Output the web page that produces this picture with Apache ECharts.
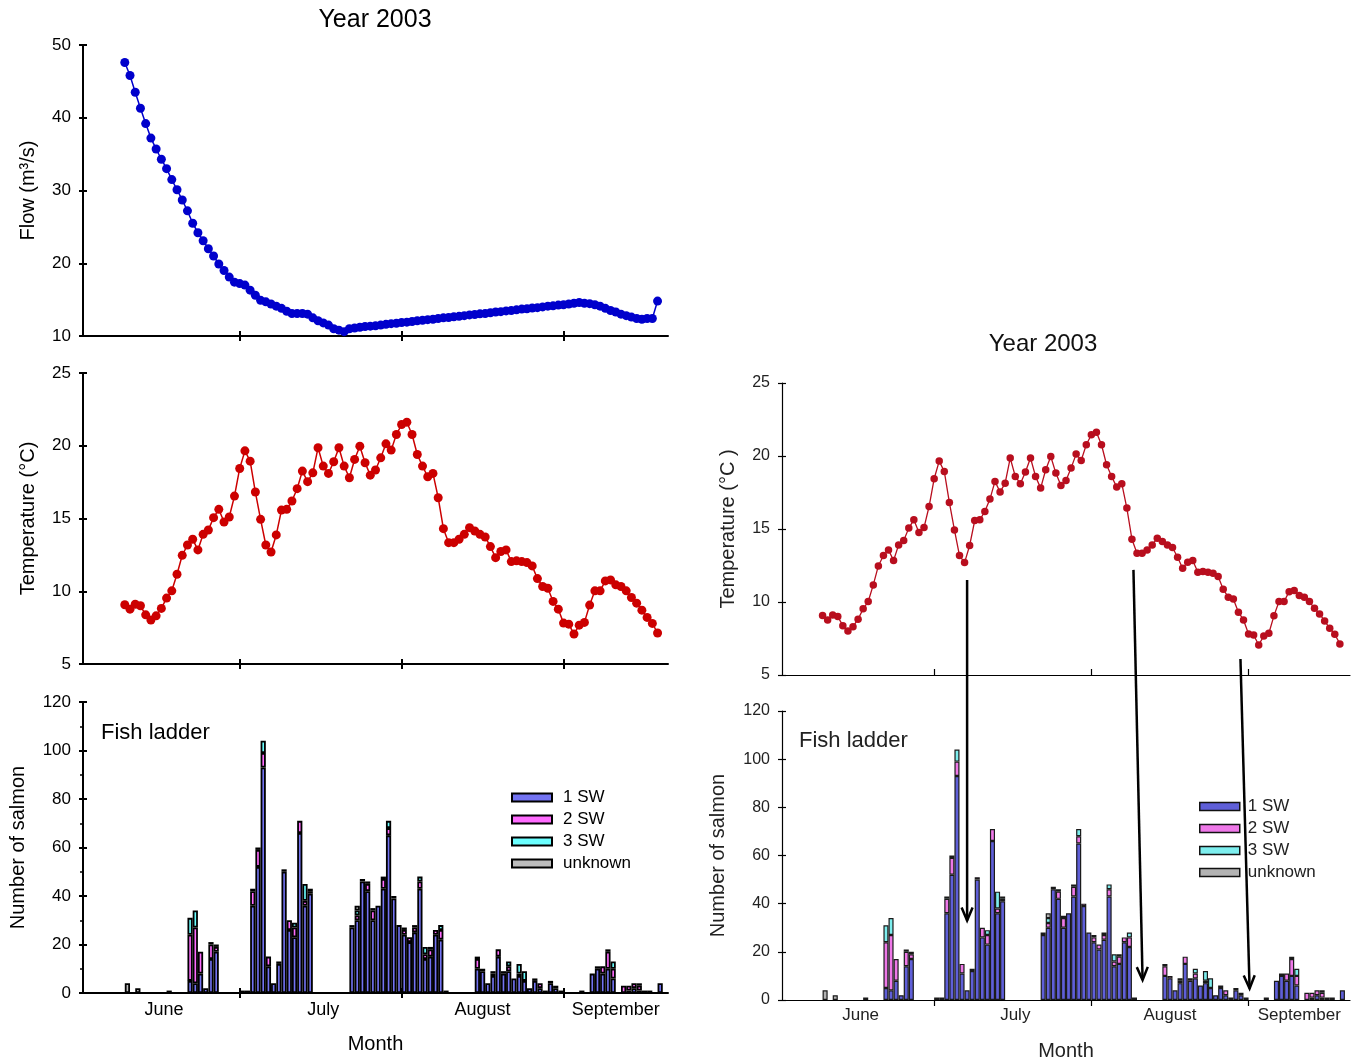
<!DOCTYPE html>
<html><head><meta charset="utf-8">
<script src="https://cdn.jsdelivr.net/npm/echarts@6/dist/echarts.min.js"></script>
<style>html,body{margin:0;padding:0;background:#fff}#c{width:1362px;height:1063px}</style>
</head><body><div id="c"></div>
<script>
// ---------------- DATA ----------------
// day index: 0 = 1 June 2003
const FIRST_DAY = 8;          // first daily flow / temperature reading (9 June)
const NDAYS = 112;            // axis spans 1 June .. 21 September
const flowValues = [
 47.6,45.8,43.5,41.3,39.2,37.2,35.7,34.3,33.0,31.5,
 30.1,28.7,27.2,25.5,24.2,23.1,22.0,21.0,19.9,19.0,
 18.1,17.4,17.2,17.0,16.3,15.6,14.9,14.7,14.4,14.1,
 13.8,13.4,13.1,13.1,13.1,13.0,12.5,12.1,11.8,11.5,
 11.0,10.8,10.6,11.0,11.1,11.2,11.3,11.35,11.4,11.5,
 11.6,11.7,11.75,11.85,11.9,12.0,12.1,12.15,12.25,12.3,
 12.4,12.5,12.55,12.65,12.7,12.8,12.9,12.95,13.05,13.1,
 13.2,13.3,13.35,13.45,13.5,13.6,13.7,13.75,13.85,13.9,
 14.0,14.1,14.15,14.25,14.3,14.4,14.5,14.6,14.5,14.45,
 14.3,14.1,13.8,13.5,13.3,13.0,12.8,12.6,12.4,12.3,
 12.4,12.4,14.8];
const tempValues = [
 9.07,8.77,9.11,9.0,8.38,8.02,8.31,8.82,9.53,10.03,
 11.17,12.47,13.18,13.57,12.84,13.91,14.21,15.06,15.63,14.76,
 15.1,16.54,18.44,19.65,18.94,16.82,14.94,13.18,12.7,13.87,
 15.58,15.63,16.2,17.05,18.26,17.53,18.14,19.86,18.6,18.1,
 18.9,19.86,18.6,17.8,19.06,19.97,18.83,17.98,18.33,19.17,
 20.13,19.7,20.77,21.46,21.62,20.77,19.4,18.6,17.87,18.1,
 16.43,14.3,13.34,13.34,13.57,13.91,14.37,14.14,13.91,13.73,
 13.07,12.31,12.73,12.84,12.04,12.09,12.04,11.97,11.74,10.87,
 10.33,10.21,9.3,8.77,7.81,7.74,7.06,7.67,7.86,9.05,
 10.03,10.03,10.71,10.78,10.44,10.33,10.03,9.57,9.18,8.7,
 8.2,7.79,7.13];
const barDays = [8,10,16, 20,21,22,23,24,25, 30,31,
 32,33,34,35,36,37,38,39,40,41,42,43,
 51,52,53,54,55,56,57,58,59,60,61,62,63,64,65,66,67,68,69,
 75,76,77,78,79,80,81,82,83,84,85,86,87,88,89,90,91,
 95, 97,98,99,100,101, 103,104,105,106,107,108, 110];
const sw1 = [0,0,1, 5,4,8,2,14,17, 1,1,
 36,52,93,11,4,12,50,26,23,66,36,41,
 27,30,46,42,30,36,43,65,39,28,24,21,25,43,14,15,24,22,1,
 10,9,4,7,15,8,9,6,7,5,2,5,2,1,4,2,1,
 1, 8,10,8,10,6, 0,1,2,1,1,1, 4];
const sw2 = [0,0,0, 19,23,9,0,6,2, 0,0,
 6,7,6,4,0,0,1,4,4,5,2,1,
 1,2,0,3,4,0,4,3,1,0,2,2,2,3,2,3,2,4,0,
 4,1,0,1,3,1,2,0,1,0,0,0,2,0,0,1,0,
 0, 0,1,3,7,4, 3,2,2,2,0,0, 0];
const sw3 = [0,0,0, 7,7,0,0,1,1, 0,0,
 1,1,5,0,0,1,0,0,2,0,7,1,
 0,2,1,1,1,0,1,3,0,0,1,0,1,2,3,1,0,2,0,
 1,0,0,1,0,0,2,0,4,4,0,1,0,0,1,0,0,
 0, 0,0,0,1,3, 0,0,0,1,0,0, 0];
const unknownSW = [4,2,0, 0,0,0,0,0,0, 0,0,
 0,0,0,0,0,0,0,0,0,0,0,0,
 0,2,0,0,0,0,0,0,0,0,0,0,0,0,0,0,0,0,0,
 0,0,0,0,0,0,0,0,0,0,0,0,0,0,0,0,0,
 0, 0,0,0,0,0, 0,0,0,0,0,0, 0];
const seriesNames = ['1 SW','2 SW','3 SW','unknown'];
const monthNames = ['June','July','August','September'];
const monthStarts = [30, 61, 92];
const monthLabelPos = [15.5, 46, 76.5, 102];
// arrows (annotation, right panel): from temperature point to salmon-count point
const arrows = [
 {from:[36.5, 11.5], to:[36.5, 33]},
 {from:[69.3, 12.2], to:[71.1, 8.3]},
 {from:[90.4, 6.1], to:[92.2, 4.8]}
];

// ---------------- BUILD ----------------
const FONT = '"Liberation Sans", Arial, sans-serif';
const lineDays = flowValues.map((_, i) => FIRST_DAY + i);
const flowData = lineDays.map((d, i) => [d, flowValues[i]]);
const tempData = lineDays.map((d, i) => [d, tempValues[i]]);
const dayCats = Array.from({length: NDAYS}, (_, i) => String(i));
function fullSeries(arr) {
  const out = new Array(NDAYS).fill('-');
  barDays.forEach((d, i) => { if (arr[i] > 0) out[d] = arr[i]; });
  return out;
}
const stackData = [sw1, sw2, sw3, unknownSW].map(fullSeries);
function nearestIdx(v) {
  let b = 0; monthLabelPos.forEach((p, i) => { if (Math.abs(p - v) < Math.abs(monthLabelPos[b] - v)) b = i; });
  return b;
}

const grids = [
  {left:83, top:45, width:585, height:291},
  {left:83, top:373, width:585, height:291},
  {left:83, top:702, width:585, height:291},
  {left:782, top:383, width:568, height:292},
  {left:782, top:711, width:568, height:289}
];

const xAxes = [], yAxes = [];
const addX = o => (xAxes.push(o), xAxes.length - 1);
const addY = o => (yAxes.push(o), yAxes.length - 1);

function xValueAxis(g, c) {
  const lw = c.lw || 2;
  return {
    type:'value', gridIndex:g, min:0, max:NDAYS, position:'bottom', silent:true,
    splitLine:{show:false},
    axisLine:{show: c.line !== false, onZero:false, lineStyle:{color:'#000', width:lw}},
    axisTick:{show: c.tick !== false, inside: !!c.inside, length: c.tl || 5, customValues: monthStarts,
      lineStyle:{color:'#000', width:lw}},
    axisLabel: c.fs ? {show:true, customValues: monthLabelPos, formatter: v => monthNames[nearestIdx(v)],
      fontSize:c.fs, fontFamily:FONT, color:c.color || '#000', margin:c.margin || 8} : {show:false},
    name: c.name || '', nameLocation:'middle', nameGap: c.nameGap || 40,
    nameTextStyle:{fontSize:20, fontFamily:FONT, color:c.color || '#000'}
  };
}
function yValueAxis(g, min, max, interval, c) {
  const lw = c.lw || 2;
  return {
    type:'value', gridIndex:g, min, max, interval, position:'left', silent:true,
    splitLine:{show:false},
    axisLine:{show: c.line !== false, onZero:false, lineStyle:{color:'#000', width:lw}},
    axisTick:{show:true, inside: !!c.inside, length: c.tl || 4, lineStyle:{color:'#000', width:lw}},
    minorTick: c.minor ? {show:true, splitNumber:2, length:3, lineStyle:{color:'#000', width:1.5}} : {show:false},
    axisLabel: c.fs ? {show:true, fontSize:c.fs, fontFamily:FONT, color:c.color || '#000', margin:c.margin || 12} : {show:false},
    name: c.name || '', nameLocation:'middle', nameGap: c.nameGap || 40, nameRotate:90,
    nameTextStyle:{fontSize:20, fontFamily:FONT, color:c.color || '#000'}
  };
}
function catAxis(g) {
  return {type:'category', gridIndex:g, data:dayCats, show:false, boundaryGap:true, position:'bottom'};
}

// grid 0 : flow (left)
const fX = addX(xValueAxis(0, {}));
addX(xValueAxis(0, {line:false, inside:true}));
const fY = addY(yValueAxis(0, 10, 50, 10, {fs:17, name:'Flow (m³/s)', nameGap:45}));
addY(yValueAxis(0, 10, 50, 10, {line:false, inside:true}));
// grid 1 : temperature (left)
const tX = addX(xValueAxis(1, {}));
addX(xValueAxis(1, {line:false, inside:true}));
const tY = addY(yValueAxis(1, 5, 25, 5, {fs:17, name:'Temperature (°C)', nameGap:45}));
addY(yValueAxis(1, 5, 25, 5, {line:false, inside:true}));
// grid 2 : salmon (left)
addX(xValueAxis(2, {fs:18, name:'Month', nameGap:41}));
addX(xValueAxis(2, {line:false, inside:true}));
const bCL = addX(catAxis(2));
const bY = addY(yValueAxis(2, 0, 120, 20, {fs:17, minor:true, name:'Number of salmon', nameGap:55}));
addY(yValueAxis(2, 0, 120, 20, {line:false, inside:true}));
// grid 3 : temperature (right)
const rtX = addX(xValueAxis(3, {lw:1.2, inside:true, tl:6}));
const rtY = addY(yValueAxis(3, 5, 25, 5, {lw:1.2, fs:16, color:'#222', name:'Temperature (°C )', nameGap:44}));
addY(yValueAxis(3, 5, 25, 5, {lw:1.2, line:false, inside:true}));
// grid 4 : salmon (right)
const rbX = addX(xValueAxis(4, {lw:1.2, tl:6, fs:17, color:'#222', margin:7, name:'Month', nameGap:41}));
const rbC = addX(catAxis(4));
const rbY = addY(yValueAxis(4, 0, 120, 20, {lw:1.2, fs:16, color:'#222', name:'Number of salmon', nameGap:54}));
addY(yValueAxis(4, 0, 120, 20, {lw:1.2, line:false, inside:true}));

const leftColors = ['#7373F2', '#FF6BFF', '#6BFFFF', '#BDBDBD'];
const rightColors = ['#5F5FD8', '#EE78E8', '#7DEEEE', '#B3B3B3'];

const series = [
  {type:'line', xAxisIndex:fX, yAxisIndex:fY, data:flowData, symbol:'circle', symbolSize:9,
   itemStyle:{color:'#0000CC'}, lineStyle:{color:'#0000CC', width:1.5}, silent:true},
  {type:'line', xAxisIndex:tX, yAxisIndex:tY, data:tempData, symbol:'circle', symbolSize:9,
   itemStyle:{color:'#CC0000'}, lineStyle:{color:'#CC0000', width:1.5}, silent:true},
  {type:'line', xAxisIndex:rtX, yAxisIndex:rtY, data:tempData, symbol:'circle', symbolSize:7.5,
   itemStyle:{color:'#B80E1E'}, lineStyle:{color:'#B80E1E', width:1.3}, silent:true}
];
seriesNames.forEach((name, k) => {
  series.push({type:'bar', name, stack:'L', xAxisIndex:bCL, yAxisIndex:bY, data:stackData[k],
    barCategoryGap:'0%', barWidth:'100%', silent:true,
    itemStyle:{color:leftColors[k], borderColor:'#000', borderWidth:1.8}});
});
seriesNames.forEach((name, k) => {
  series.push({type:'bar', name, stack:'R', xAxisIndex:rbC, yAxisIndex:rbY, data:stackData[k],
    barCategoryGap:'0%', barWidth:'100%', silent:true,
    itemStyle:{color:rightColors[k], borderColor:'#1a1a1a', borderWidth:1.2}});
});

const legendBase = {orient:'vertical', itemWidth:40, itemHeight:8, itemGap:5, icon:'rect', selectedMode:false, padding:0};
const legends = [
  Object.assign({}, legendBase, {left:511, top:789,
    data: seriesNames.map((n, k) => ({name:n, itemStyle:{color:leftColors[k], borderColor:'#000', borderWidth:2}})),
    textStyle:{fontSize:17, fontFamily:FONT, color:'#000', padding:[0,0,0,6], lineHeight:17}}),
  Object.assign({}, legendBase, {left:1199, top:798,
    data: seriesNames.map((n, k) => ({name:n, itemStyle:{color:rightColors[k], borderColor:'#111', borderWidth:1.5}})),
    textStyle:{fontSize:17, fontFamily:FONT, color:'#222', padding:[0,0,0,3], lineHeight:17}})
];

const chart = echarts.init(document.getElementById('c'));
chart.setOption({
  animation:false, backgroundColor:'#fff',
  grid: grids, xAxis: xAxes, yAxis: yAxes, series, legend: legends
});

function txt(text, x, y, size, align, color) {
  return {type:'text', z:100, style:{text, x, y, font: size + 'px ' + FONT, fill: color || '#000',
    textAlign: align, align: align, textVerticalAlign:'middle', verticalAlign:'middle'}};
}
const graphics = [
  txt('Year 2003', 375, 20, 25, 'center'),
  txt('Year 2003', 1043, 344, 24, 'center', '#111'),
  txt('Fish ladder', 101, 733, 22, 'left'),
  txt('Fish ladder', 799, 741, 22, 'left', '#222')
];
arrows.forEach(a => {
  const p1 = chart.convertToPixel({xAxisIndex: rtX, yAxisIndex: rtY}, a.from);
  const p2 = chart.convertToPixel({xAxisIndex: rbX, yAxisIndex: rbY}, a.to);
  const dx = p2[0] - p1[0], dy = p2[1] - p1[1], L = Math.hypot(dx, dy);
  const ux = dx / L, uy = dy / L, px = -uy, py = ux;
  const hl = 13, hw = 5.5;
  graphics.push({type:'line', z:100, shape:{x1:p1[0], y1:p1[1], x2:p2[0], y2:p2[1]},
    style:{stroke:'#000', lineWidth:2.5}});
  graphics.push({type:'polyline', z:100, shape:{points:[
      [p2[0] - ux*hl + px*hw, p2[1] - uy*hl + py*hw], [p2[0], p2[1]],
      [p2[0] - ux*hl - px*hw, p2[1] - uy*hl - py*hw]]},
    style:{stroke:'#000', lineWidth:2.5, fill:null}});
});
chart.setOption({graphic: graphics});
</script></body></html>
